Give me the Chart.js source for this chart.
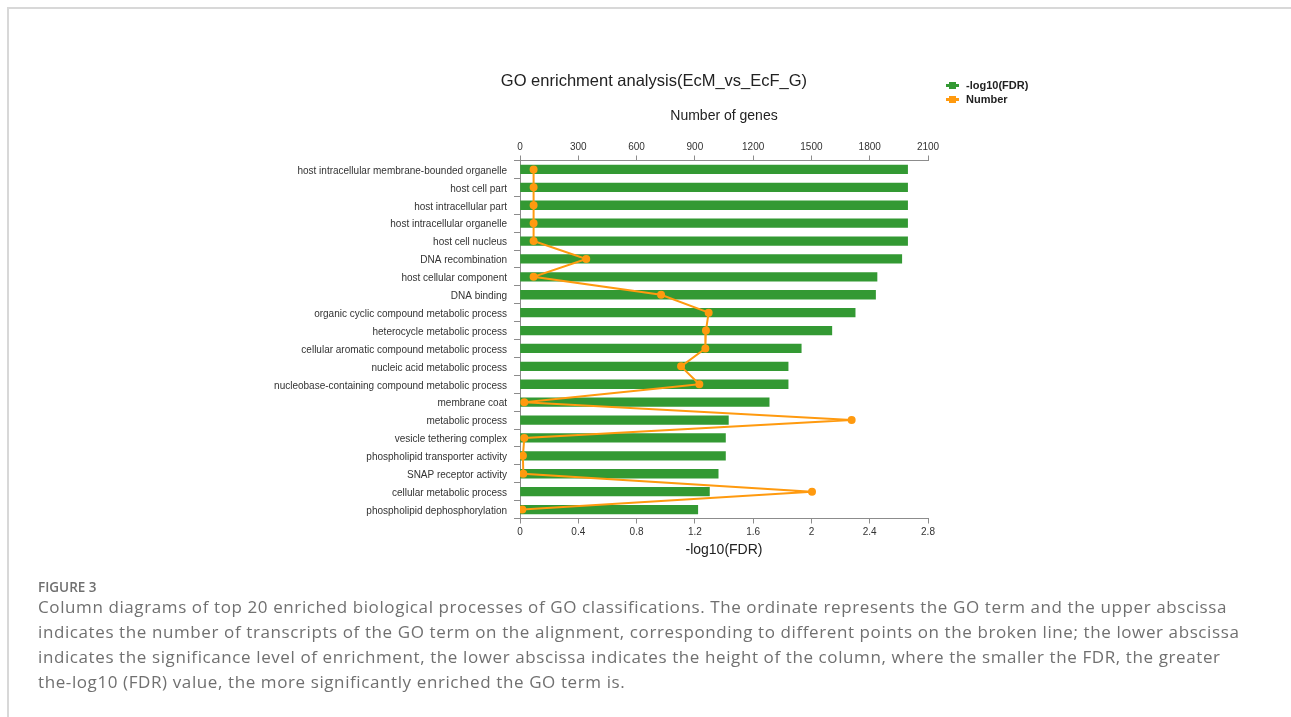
<!DOCTYPE html>
<html>
<head>
<meta charset="utf-8">
<title>GO enrichment analysis(EcM_vs_EcF_G)</title>
<script src="https://cdn.jsdelivr.net/npm/chart.js@4.4.0/dist/chart.umd.min.js"></script>
<style>
  html, body { margin: 0; padding: 0; background: #fff; }
  body { width: 1291px; height: 717px; position: relative; overflow: hidden; }
  .frame { position: absolute; left: 7px; top: 7px; right: -4px; bottom: -4px;
           border-top: 2px solid #d8d8d8; border-left: 2px solid #d8d8d8; }
  #chart { position: absolute; left: 0; top: 0; }
  .title { position: absolute; left: 454px; width: 400px; top: 69px; text-align: center;
           font-family: "Liberation Sans", Arial, sans-serif; font-size: 16.5px; color: #222; line-height: 22px; }
  #legend { position: absolute; left: 946px; top: 78px; font-family: "Liberation Sans", Arial, sans-serif;
            font-size: 11px; font-weight: bold; color: #222; }
  #legend .row { height: 14px; line-height: 14px; display: flex; align-items: center; }
  #legend .mk { position: relative; width: 13px; height: 14px; margin-right: 7px; }
  #legend .mk .ln { position: absolute; left: 0; top: 6px; width: 13px; height: 3px; }
  #legend .mk .sq { position: absolute; left: 3px; top: 4px; width: 7px; height: 7px; }
  .fig { position: absolute; left: 38px; top: 578px; font-family: "Open Sans", Lato, sans-serif;
         font-size: 13.5px; font-weight: 600; color: #707070; }
  .cap { position: absolute; left: 38px; top: 594px; font-family: "Open Sans", Lato, sans-serif;
         font-size: 17px; letter-spacing: 0.6px; color: #707070; line-height: 25px; white-space: nowrap; }
</style>
</head>
<body>
<div class="frame"></div>
<canvas id="chart" width="1291" height="580"></canvas>
<div class="title">GO enrichment analysis(EcM_vs_EcF_G)</div>
<div id="legend"></div>
<div class="fig">FIGURE 3</div>
<div class="cap">Column diagrams of top 20 enriched biological processes of GO classifications. The ordinate represents the GO term and the upper abscissa<br>indicates the number of transcripts of the GO term on the alignment, corresponding to different points on the broken line; the lower abscissa<br>indicates the significance level of enrichment, the lower abscissa indicates the height of the column, where the smaller the FDR, the greater<br>the-log10 (FDR) value, the more significantly enriched the GO term is.</div>
<script>
// GO terms, top to bottom
const goTerms = [
  'host intracellular membrane-bounded organelle',
  'host cell part',
  'host intracellular part',
  'host intracellular organelle',
  'host cell nucleus',
  'DNA recombination',
  'host cellular component',
  'DNA binding',
  'organic cyclic compound metabolic process',
  'heterocycle metabolic process',
  'cellular aromatic compound metabolic process',
  'nucleic acid metabolic process',
  'nucleobase-containing compound metabolic process',
  'membrane coat',
  'metabolic process',
  'vesicle tethering complex',
  'phospholipid transporter activity',
  'SNAP receptor activity',
  'cellular metabolic process',
  'phospholipid dephosphorylation'
];

// -log10(FDR) per term (bars, lower axis)
const negLog10FDR = [2.66, 2.66, 2.66, 2.66, 2.66, 2.62, 2.45, 2.44, 2.30, 2.14,
                     1.93, 1.84, 1.84, 1.71, 1.43, 1.41, 1.41, 1.36, 1.30, 1.22];

// number of genes per term (broken line, upper axis)
const geneCounts = [70, 70, 70, 70, 70, 341, 70, 726, 971, 957,
                    954, 829, 923, 22, 1707, 22, 15, 17, 1503, 12];

// axis tick values
const fdrTicks = [0, 0.4, 0.8, 1.2, 1.6, 2, 2.4, 2.8];
const geneTicks = [0, 300, 600, 900, 1200, 1500, 1800, 2100];

const GREEN = '#339933';
const ORANGE = '#ff9a0f';
const AXIS = '#8c8c8c';
const FONT = '"Liberation Sans", Arial, sans-serif';

const chart = new Chart(document.getElementById('chart'), {
  data: {
    labels: goTerms,
    datasets: [
      {
        type: 'line',
        label: 'Number',
        data: geneCounts,
        indexAxis: 'y',
        xAxisID: 'x2',
        yAxisID: 'y',
        borderColor: ORANGE,
        backgroundColor: ORANGE,
        borderWidth: 2,
        pointRadius: 3,
        pointBackgroundColor: ORANGE,
        pointBorderColor: ORANGE,
        tension: 0,
        order: 0
      },
      {
        type: 'bar',
        label: '-log10(FDR)',
        data: negLog10FDR,
        indexAxis: 'y',
        xAxisID: 'x',
        yAxisID: 'y',
        backgroundColor: GREEN,
        borderWidth: 0,
        barThickness: 8.6,
        order: 1
      }
    ]
  },
  options: {
    indexAxis: 'y',
    responsive: false,
    animation: false,
    devicePixelRatio: 1,
    layout: { padding: { left: 260, right: 363, top: 100.5, bottom: 16.5 } },
    plugins: { legend: { display: false }, tooltip: { enabled: false }, title: { display: false } },
    scales: {
      y: {
        type: 'category',
        position: 'left',
        offset: true,
        afterFit: s => { s.width = 260; },
        grid: { display: true, drawOnChartArea: false, drawTicks: true, tickLength: 6, offset: true, color: AXIS },
        border: { display: true, color: AXIS, width: 1 },
        ticks: { font: { family: FONT, size: 10 }, color: '#333', padding: 7, autoSkip: false, labelOffset: 1.5 }
      },
      x: {
        type: 'linear',
        position: 'bottom',
        min: 0, max: 2.8,
        afterFit: s => { s.height = 45; },
        afterBuildTicks: s => { s.ticks = fdrTicks.map(v => ({ value: v })); },
        grid: { display: true, drawOnChartArea: false, drawTicks: true, tickLength: 5, color: AXIS },
        border: { display: true, color: AXIS, width: 1 },
        ticks: { font: { family: FONT, size: 10 }, color: '#333', padding: 2.5, maxRotation: 0,
                 callback: v => String(v) },
        title: { display: true, text: '-log10(FDR)', font: { family: FONT, size: 14 }, color: '#222',
                 padding: { top: 0, bottom: 5.1 } }
      },
      x2: {
        type: 'linear',
        position: 'top',
        min: 0, max: 2100,
        afterFit: s => { s.height = 60; },
        afterBuildTicks: s => { s.ticks = geneTicks.map(v => ({ value: v })); },
        grid: { display: true, drawOnChartArea: false, drawTicks: true, tickLength: 5, color: AXIS },
        border: { display: true, color: AXIS, width: 1 },
        ticks: { font: { family: FONT, size: 10 }, color: '#333', padding: 2, maxRotation: 0,
                 callback: v => String(v) },
        title: { display: true, text: 'Number of genes', font: { family: FONT, size: 14 }, color: '#222',
                 padding: { top: 7.1, bottom: 0 } }
      }
    }
  }
});

// legend built from the datasets: bars first, then the line
const legend = document.getElementById('legend');
[chart.data.datasets[1], chart.data.datasets[0]].forEach(ds => {
  const row = document.createElement('div');
  row.className = 'row';
  const c = ds.backgroundColor;
  row.innerHTML = '<span class="mk"><span class="ln" style="background:' + c + '"></span>' +
                  '<span class="sq" style="background:' + c + '"></span></span><span></span>';
  row.lastChild.textContent = ds.label;
  legend.appendChild(row);
});
</script>
</body>
</html>
